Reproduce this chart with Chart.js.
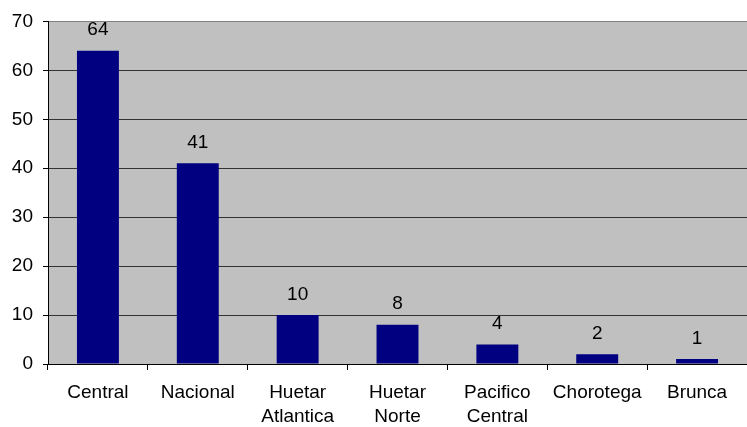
<!DOCTYPE html>
<html>
<head>
<meta charset="utf-8">
<script src="https://cdn.jsdelivr.net/npm/chart.js@4"></script>
<style>
html,body{margin:0;padding:0;background:#fff;}
#wrap{width:747px;height:427px;position:relative;}
</style>
</head>
<body>
<div id="wrap"><canvas id="c" width="747" height="427"></canvas></div>
<script>
const categories = [["Central"], ["Nacional"], ["Huetar", "Atlantica"], ["Huetar", "Norte"], ["Pacifico", "Central"], ["Chorotega"], ["Brunca"]];
const values = [64, 41, 10, 8, 4, 2, 1];
const yTicks = [0, 10, 20, 30, 40, 50, 60, 70];

const FONT = "'Liberation Sans', Arial, sans-serif";
const FS = 19;

const bgPlugin = {
  id: 'bg',
  beforeDraw(chart) {
    const {ctx, chartArea: a} = chart;
    ctx.save();
    ctx.fillStyle = '#C0C0C0';
    ctx.fillRect(a.left, a.top, a.right - a.left, a.bottom - a.top);
    ctx.restore();
  }
};

const labelPlugin = {
  id: 'lbl',
  afterDatasetsDraw(chart) {
    const ctx = chart.ctx;
    const meta = chart.getDatasetMeta(0);
    ctx.save();
    ctx.font = FS + 'px ' + FONT;
    ctx.fillStyle = '#000';
    ctx.textAlign = 'center';
    ctx.textBaseline = 'alphabetic';
    meta.data.forEach((bar, i) => {
      ctx.fillText(String(values[i]), bar.x, bar.y - 15.5);
    });
    ctx.restore();
  }
};

new Chart(document.getElementById('c'), {
  type: 'bar',
  data: {
    labels: categories,
    datasets: [{
      data: values,
      backgroundColor: '#000080',
      borderWidth: 0,
      barPercentage: 0.42,
      categoryPercentage: 1.0
    }]
  },
  options: {
    responsive: false,
    animation: false,
    devicePixelRatio: 1,
    layout: {padding: {top: 21, right: 0, left: 0, bottom: 0}},
    plugins: {legend: {display: false}, tooltip: {enabled: false}},
    scales: {
      x: {
        afterFit(s) { s.height = 63; },
        grid: {
          offset: true,
          drawOnChartArea: false,
          drawTicks: true,
          tickLength: 6,
          color: '#000'
        },
        border: {display: true, color: '#000', width: 1},
        ticks: {
          color: '#000',
          font: {family: FONT, size: FS, lineHeight: 1.3},
          padding: 10,
          maxRotation: 0,
          autoSkip: false
        }
      },
      y: {
        min: 0,
        max: 70,
        afterFit(s) { s.width = 48; },
        afterBuildTicks(s) { s.ticks = yTicks.map(v => ({value: v})); },
        grid: {
          drawTicks: true,
          tickLength: 5,
          color: (c) => c.tick && c.tick.value === 70 ? '#808080' : '#333',
          tickColor: '#000'
        },
        border: {display: true, color: '#000', width: 1},
        ticks: {
          color: '#000',
          font: {family: FONT, size: FS},
          padding: 10,
          stepSize: 10
        }
      }
    }
  },
  plugins: [bgPlugin, labelPlugin]
});
</script>
</body>
</html>
